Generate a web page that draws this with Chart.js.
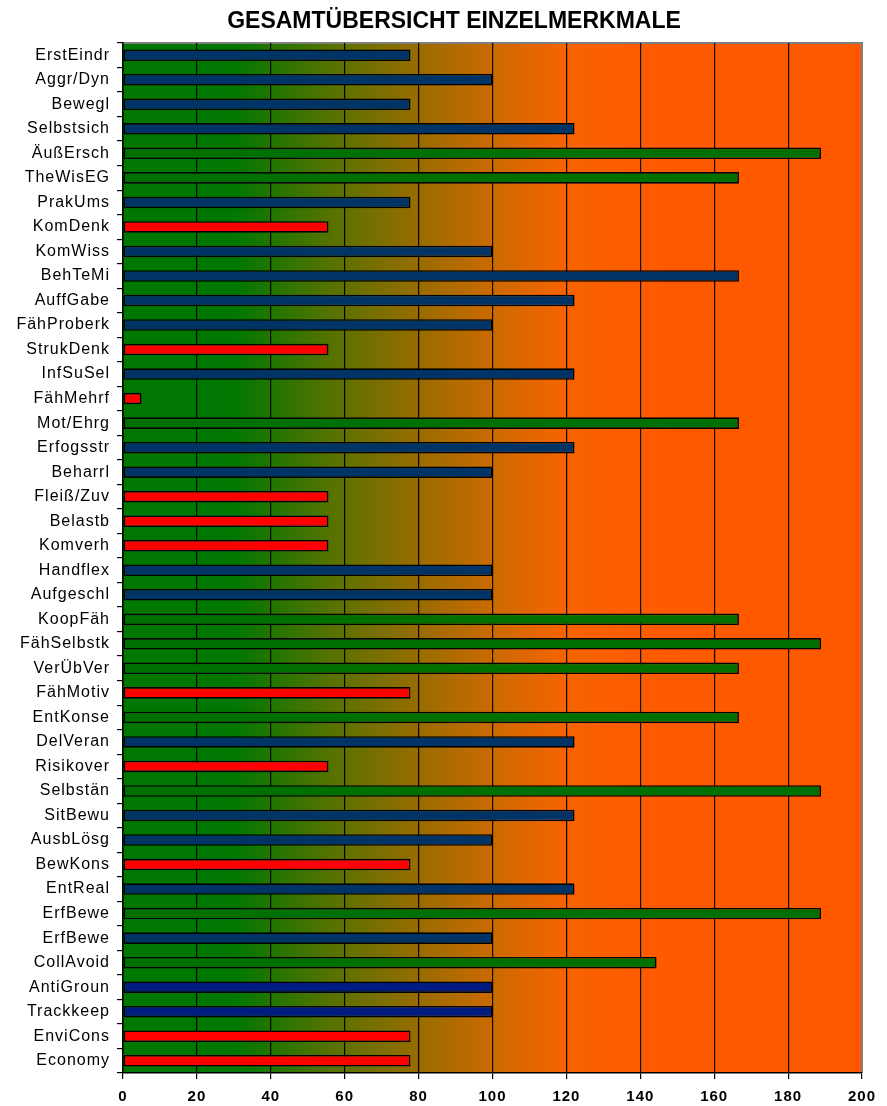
<!DOCTYPE html>
<html lang="de">
<head>
<meta charset="utf-8">
<title>Gesamtübersicht Einzelmerkmale</title>
<script src="https://cdn.jsdelivr.net/npm/chart.js@4/dist/chart.umd.min.js"></script>
<style>
  html, body { margin: 0; padding: 0; background: #ffffff; }
  #wrap { width: 887px; height: 1106px; position: relative; }
  #titel {
    position: absolute; left: 0; top: 6px; width: 908px;
    text-align: center; white-space: nowrap;
    font: bold 23px/28px "Liberation Sans", Arial, sans-serif;
    color: #000000; pointer-events: none;
  }
</style>
</head>
<body>
<div id="wrap">
  <canvas id="chart"></canvas>
  <div id="titel">GESAMTÜBERSICHT EINZELMERKMALE</div>
</div>
<script>
// Merkmale (top to bottom)
const merkmale = [
  'ErstEindr', 'Aggr/Dyn', 'Bewegl', 'Selbstsich', 'ÄußErsch', 'TheWisEG', 'PrakUms',
  'KomDenk', 'KomWiss', 'BehTeMi', 'AuffGabe', 'FähProberk', 'StrukDenk', 'InfSuSel',
  'FähMehrf', 'Mot/Ehrg', 'Erfogsstr', 'Beharrl', 'Fleiß/Zuv', 'Belastb', 'Komverh',
  'Handflex', 'Aufgeschl', 'KoopFäh', 'FähSelbstk', 'VerÜbVer', 'FähMotiv', 'EntKonse',
  'DelVeran', 'Risikover', 'Selbstän', 'SitBewu', 'AusbLösg', 'BewKons', 'EntReal',
  'ErfBewe', 'ErfBewe', 'CollAvoid', 'AntiGroun', 'Trackkeep', 'EnviCons', 'Economy'
];

// Ausprägung je Merkmal
const werte = [
  77.8, 100, 77.8, 122.2, 188.9, 166.7, 77.8,
  55.6, 100, 166.7, 122.2, 100, 55.6, 122.2,
  5, 166.7, 122.2, 100, 55.6, 55.6, 55.6,
  100, 100, 166.7, 188.9, 166.7, 77.8, 166.7,
  122.2, 55.6, 188.9, 122.2, 100, 77.8, 122.2,
  188.9, 100, 144.4, 100, 100, 77.8, 77.8
];

// Bewertung je Merkmal: 'stark', 'normal', 'schwach', 'nautik'
const bewertung = [
  'normal', 'normal', 'normal', 'normal', 'stark', 'stark', 'normal',
  'schwach', 'normal', 'normal', 'normal', 'normal', 'schwach', 'normal',
  'schwach', 'stark', 'normal', 'normal', 'schwach', 'schwach', 'schwach',
  'normal', 'normal', 'stark', 'stark', 'stark', 'schwach', 'stark',
  'normal', 'schwach', 'stark', 'normal', 'normal', 'schwach', 'normal',
  'stark', 'normal', 'stark', 'nautik', 'nautik', 'schwach', 'schwach'
];

// Skala der Werteachse
const skalaMin = 0;
const skalaMax = 200;
const skalaSchritt = 20;

const farben = {
  stark: '#007000',
  normal: '#003366',
  schwach: '#ff0000',
  nautik: '#001c80'
};

// Green-to-orange backdrop plus grey frame around the plot area
const hintergrund = {
  id: 'hintergrund',
  beforeDraw(chart) {
    const { ctx, chartArea: a } = chart;
    const g = ctx.createLinearGradient(a.left, 0, a.right, 0);
    g.addColorStop(0.00, '#007700');
    g.addColorStop(0.15, '#007700');
    g.addColorStop(0.28, '#557200');
    g.addColorStop(0.40, '#986c00');
    g.addColorStop(0.50, '#cb6a00');
    g.addColorStop(0.60, '#f76300');
    g.addColorStop(0.72, '#ff5a00');
    g.addColorStop(1.00, '#ff5800');
    ctx.save();
    ctx.fillStyle = g;
    ctx.fillRect(a.left, a.top, a.right - a.left, a.bottom - a.top);
    ctx.strokeStyle = '#808080';
    ctx.lineWidth = 2;
    ctx.beginPath();
    ctx.moveTo(a.left, a.top);
    ctx.lineTo(a.right, a.top);
    ctx.lineTo(a.right, a.bottom);
    ctx.stroke();
    ctx.restore();
    ctx.letterSpacing = '1px';
  },
  afterDraw(chart) {
    chart.ctx.letterSpacing = '0px';
  }
};

new Chart(document.getElementById('chart'), {
  type: 'bar',
  data: {
    labels: merkmale,
    datasets: [{
      data: werte,
      backgroundColor: bewertung.map(b => farben[b]),
      borderColor: '#000000',
      borderWidth: 1.6,
      borderSkipped: false,
      barPercentage: 0.47,
      categoryPercentage: 1
    }]
  },
  options: {
    indexAxis: 'y',
    responsive: true,
    maintainAspectRatio: false,
    animation: false,
    devicePixelRatio: 1,
    layout: { padding: { left: 0, right: 25, top: 43, bottom: 0 } },
    plugins: {
      legend: { display: false },
      tooltip: { enabled: false },
      title: { display: false }
    },
    scales: {
      x: {
        min: skalaMin,
        max: skalaMax,
        afterFit(scale) { scale.height = 33; },
        ticks: {
          stepSize: skalaSchritt,
          color: '#000000',
          padding: 9,
          font: { family: 'Liberation Sans, Arial, sans-serif', size: 15, weight: 'bold' }
        },
        grid: {
          color: ctx => (ctx.tick && ctx.tick.value === skalaMax ? '#808080' : '#000000'),
          lineWidth: 1.2,
          tickLength: 6,
          tickColor: '#000000'
        },
        border: { color: '#000000', width: 1.5 }
      },
      y: {
        afterFit(scale) { scale.width = 123; },
        ticks: {
          color: '#000000',
          padding: 7,
          autoSkip: false,
          font: { family: 'Liberation Sans, Arial, sans-serif', size: 16 }
        },
        grid: {
          drawOnChartArea: false,
          drawTicks: true,
          tickLength: 6,
          tickColor: '#000000',
          lineWidth: 1.2
        },
        border: { color: '#000000', width: 1.5 }
      }
    }
  },
  plugins: [hintergrund]
});
</script>
</body>
</html>
